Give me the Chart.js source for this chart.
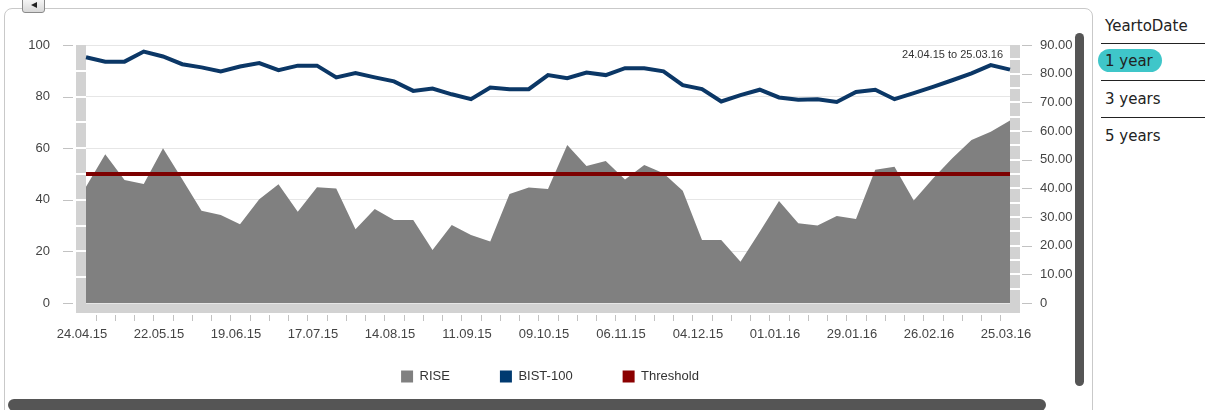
<!DOCTYPE html>
<html>
<head>
<meta charset="utf-8">
<script src="https://cdn.jsdelivr.net/npm/chart.js@4"></script>
<style>
  body { margin: 0; background: #fff; width: 1217px; height: 410px; overflow: hidden; position: relative; font-family: "Liberation Sans", Arial, sans-serif; }
  #frame { position: absolute; left: 4px; top: 8px; width: 1087px; height: 420px; border: 1px solid #c9c9c9; border-radius: 8px; }
  #wrap { position: absolute; left: 0; top: 0; width: 1072px; height: 398px; overflow: hidden; }
  #btn { position: absolute; left: 22px; top: -3px; width: 21px; height: 14px; border: 1px solid #8a8a8a; border-radius: 0 0 3px 3px; background: linear-gradient(#fafafa, #d8d8d8); }
  #btn:after { content: ""; position: absolute; left: 8px; top: 4px; border-top: 3px solid transparent; border-bottom: 3px solid transparent; border-right: 6px solid #222; }
  #vscroll { position: absolute; left: 1075px; top: 33px; width: 9px; height: 353px; background: #555; border-radius: 5px; }
  #hscroll { position: absolute; left: 8px; top: 399px; width: 1038px; height: 12px; background: #555; border-radius: 6px; }
  .side { position: absolute; left: 1105px; font-family: "DejaVu Sans", sans-serif; font-size: 15px; color: #222; }
  .rule { position: absolute; left: 1101px; width: 104px; height: 0; border-top: 1.5px solid #222; }
  #pill { position: absolute; left: 1098px; top: 49px; width: 64px; height: 23px; background: #3fc6c9; border-radius: 12px; }
</style>
</head>
<body>
<div id="frame"></div>
<div id="wrap"><canvas id="rise" width="1100" height="422"></canvas></div>
<div id="btn"></div>
<div id="vscroll"></div>
<div id="hscroll"></div>
<div class="side" style="top:17px">YeartoDate</div>
<div class="rule" style="top:43px"></div>
<div id="pill"></div>
<div class="side" style="top:52px">1 year</div>
<div class="rule" style="top:80px"></div>
<div class="side" style="top:90px">3 years</div>
<div class="rule" style="top:117px"></div>
<div class="side" style="top:127px">5 years</div>
<script>
// weekly dates
var dates = ['24.04.15','01.05.15','08.05.15','15.05.15','22.05.15','29.05.15','05.06.15','12.06.15',
  '19.06.15','26.06.15','03.07.15','10.07.15','17.07.15','24.07.15','31.07.15','07.08.15',
  '14.08.15','21.08.15','28.08.15','04.09.15','11.09.15','18.09.15','25.09.15','02.10.15',
  '09.10.15','16.10.15','23.10.15','30.10.15','06.11.15','13.11.15','20.11.15','27.11.15',
  '04.12.15','11.12.15','18.12.15','25.12.15','01.01.16','08.01.16','15.01.16','22.01.16',
  '29.01.16','05.02.16','12.02.16','19.02.16','26.02.16','04.03.16','11.03.16','18.03.16','25.03.16'];

// labels shown under the axis
var tickLabels = ['24.04.15','22.05.15','19.06.15','17.07.15','14.08.15','11.09.15','09.10.15',
  '06.11.15','04.12.15','01.01.16','29.01.16','26.02.16','25.03.16'];

var rise = [45.1, 57.7, 47.7, 46.1, 60.0, 48.0, 35.8, 34.1, 30.5, 40.2, 46.0, 35.4, 44.9,
  44.4, 28.6, 36.4, 32.2, 32.2, 20.5, 30.2, 26.4, 23.8, 42.2, 44.8, 44.2, 61.2,
  53.1, 55.0, 47.9, 53.5, 50.3, 43.5, 24.4, 24.4, 16.0, 27.6, 39.5, 30.9, 30.0,
  33.7, 32.6, 51.6, 52.8, 39.7, 48.3, 56.1, 63.2, 66.4, 70.7];

// BIST-100 in thousands (right axis)
var bist = [85.7, 84.2, 84.2, 87.7, 86.0, 83.3, 82.2, 80.8, 82.5, 83.7, 81.2, 82.8, 82.8,
  78.7, 80.2, 78.7, 77.3, 74.0, 74.8, 72.8, 71.1, 75.2, 74.6, 74.6, 79.5, 78.4,
  80.4, 79.5, 81.9, 81.9, 80.8, 76.0, 74.6, 70.3, 72.5, 74.4, 71.7, 70.9, 71.1,
  70.1, 73.6, 74.4, 71.1, 73.2, 75.4, 77.7, 80.1, 83.0, 81.4];

var thresholdDates = ['24.04.15', '25.03.16'];
var thresholdValues = [50, 50];

var rangeText = '24.04.15 to 25.03.16';

Chart.defaults.font.family = '"Liberation Sans", Arial, sans-serif';
Chart.defaults.font.size = 13;
Chart.defaults.color = '#444';

// grey frame bars, ticks and the date range
var decor = {
  id: 'decor',
  afterLayout: function(chart) {
    // legend sits a bit higher than chart.js puts it
    if (chart.legend) { chart.legend.top -= 25; chart.legend.bottom -= 25; }
  },
  beforeDraw: function(chart) {
    var ctx = chart.ctx, a = chart.chartArea;
    var y = chart.scales.y, y1 = chart.scales.y1, x = chart.scales.x;
    ctx.save();
    ctx.fillStyle = '#d2d2d2';
    ctx.fillRect(a.left - 10, a.top, 10, a.bottom - a.top + 10);
    ctx.fillRect(a.right, a.top, 10, a.bottom - a.top + 10);
    ctx.fillRect(a.left - 10, a.bottom + 1, a.right - a.left + 20, 9);
    ctx.fillStyle = '#fff';
    for (var v = 10; v < 100; v += 10) {
      ctx.fillRect(a.left - 10, Math.round(y.getPixelForValue(v)) - 1, 10, 2);
    }
    for (var w = 5; w < 90; w += 5) {
      ctx.fillRect(a.right, Math.round(y1.getPixelForValue(w)) - 1, 10, 2);
    }
    ctx.strokeStyle = '#c2c2c2';
    ctx.lineWidth = 1;
    ctx.beginPath();
    for (var t = 0; t <= 100; t += 20) {
      var p = Math.round(y.getPixelForValue(t)) + 0.5;
      ctx.moveTo(a.left - 23, p); ctx.lineTo(a.left - 13, p);
    }
    for (var r = 0; r <= 90; r += 10) {
      var q = Math.round(y1.getPixelForValue(r)) + 0.5;
      ctx.moveTo(a.right + 12, q); ctx.lineTo(a.right + 22, q);
    }
    for (var i = 0; i < dates.length - 1; i++) {
      var m = Math.round((x.getPixelForValue(i) + x.getPixelForValue(i + 1)) / 2) + 0.5;
      ctx.moveTo(m, a.bottom + 12); ctx.lineTo(m, a.bottom + 18);
    }
    ctx.stroke();
    ctx.restore();
  },
  afterDraw: function(chart) {
    var ctx = chart.ctx, a = chart.chartArea;
    ctx.save();
    ctx.font = '11px "Liberation Sans", Arial, sans-serif';
    ctx.fillStyle = '#333';
    ctx.textAlign = 'right';
    ctx.textBaseline = 'middle';
    ctx.fillText(rangeText, a.right - 7, a.top + 10);
    ctx.restore();
  }
};

var ctx = document.getElementById('rise').getContext('2d');
var chart = new Chart(ctx, {
  type: 'line',
  data: {
    labels: dates,
    datasets: [{
      label: 'RISE',
      data: rise,
      yAxisID: 'y',
      fill: 'origin',
      backgroundColor: '#808080',
      borderWidth: 0,
      pointRadius: 0,
      order: 3
    }, {
      label: 'BIST-100',
      data: bist,
      yAxisID: 'y1',
      fill: false,
      borderColor: '#0b3766',
      backgroundColor: '#003a70',
      borderWidth: 4,
      pointRadius: 0,
      order: 1
    }, {
      label: 'Threshold',
      data: thresholdDates.map(function(d, i) { return { x: d, y: thresholdValues[i] }; }),
      yAxisID: 'y',
      fill: false,
      borderColor: '#7d0000',
      backgroundColor: '#8b0000',
      borderWidth: 4,
      pointRadius: 0,
      order: 2
    }]
  },
  options: {
    responsive: false,
    animation: false,
    layout: { padding: { top: 45, left: 0, right: 0, bottom: 4 } },
    plugins: {
      tooltip: { enabled: false },
      legend: {
        position: 'bottom',
        labels: {
          boxWidth: 12,
          boxHeight: 12,
          padding: 50,
          color: '#333',
          sort: function(a, b) { return a.datasetIndex - b.datasetIndex; },
          generateLabels: function(c) {
            return Chart.defaults.plugins.legend.labels.generateLabels(c).map(function(l) {
              l.lineWidth = 0;
              return l;
            });
          }
        }
      }
    },
    scales: {
      x: {
        grid: { display: false, drawTicks: false },
        border: { display: false },
        ticks: {
          autoSkip: false,
          maxRotation: 0,
          padding: 24,
          labelOffset: -4,
          color: '#444',
          callback: function(v, i) {
            return tickLabels.indexOf(dates[i]) >= 0 ? dates[i] : '';
          }
        },
        afterFit: function(s) { s.height = 42; }
      },
      y: {
        position: 'left',
        min: 0,
        max: 100,
        ticks: { stepSize: 20, padding: 36, color: '#444' },
        grid: { color: '#e6e6e6', drawTicks: false },
        border: { display: false },
        afterFit: function(s) { s.width = 86; }
      },
      y1: {
        position: 'right',
        min: 0,
        max: 90,
        ticks: {
          stepSize: 10,
          padding: 30,
          color: '#444',
          callback: function(v) { return v === 0 ? '0' : v.toFixed(2); }
        },
        grid: { drawOnChartArea: false, drawTicks: false },
        border: { display: false },
        afterFit: function(s) { s.width = 90; }
      }
    }
  },
  plugins: [decor]
});
</script>
</body>
</html>
